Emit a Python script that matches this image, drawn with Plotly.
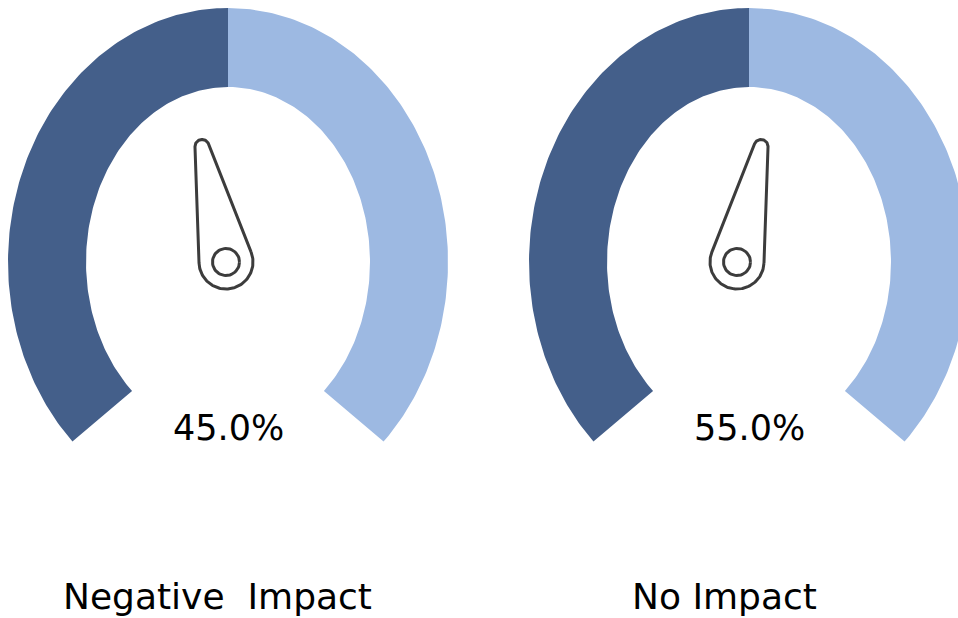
import numpy as np
import plotly.graph_objects as go

# ---- data ----
categories = ["Negative  Impact", "No Impact"]
shares = [0.45, 0.55]            # needle reading per gauge
band_names = ["Lower half", "Upper half"]
band_sizes = [0.5, 0.5]          # dial bands as fractions of the scale

# ---- style / layout ----
W, H = 958, 618
band_colors = ["#445F8A", "#9DB9E2"]
needle_color = "#3C3C3C"
font_family = "DejaVu Sans, Verdana, sans-serif"
gauge_cx = [228, 749]            # dial centres (canvas units = px)
gauge_cy = 262
needle_dx = [-2, -12]            # needle hub offset from the dial centre
r_out = (220, 254)               # outer radius (x, y)
r_in = (142, 175)                # inner radius (x, y)
start_deg, sweep_deg = 225.0, 270.0
inner_flare = 2.5                # inner edge of the end cuts leans into the gap
hub_r, tip_r, tip_dist, pin_r = 27.0, 7.0, 118.0, 13.5

fig = go.Figure()


def band_polygon(cx, cy, a0, a1, f0, f1):
    t = np.radians(np.linspace(a0, a1, 140))
    ti = np.radians(np.linspace(a0 + f0, a1 - f1, 140))[::-1]
    xo = cx + r_out[0] * np.cos(t)
    yo = cy - r_out[1] * np.sin(t)
    xi = cx + r_in[0] * np.cos(ti)
    yi = cy - r_in[1] * np.sin(ti)
    return np.r_[xo, xi, xo[:1]], np.r_[yo, yi, yo[:1]]


def needle_outline(px, py, ang):
    # direction follows the dial's elliptical mapping
    ux, uy = r_out[0] * np.cos(ang), -r_out[1] * np.sin(ang)
    n = np.hypot(ux, uy)
    ux, uy = ux / n, uy / n
    vx, vy = -uy, ux
    phi = np.arccos((hub_r - tip_r) / tip_dist)
    big = np.linspace(phi, 2 * np.pi - phi, 90)
    small = np.linspace(-phi, phi, 40)
    lx = np.r_[hub_r * np.cos(big), tip_dist + tip_r * np.cos(small)]
    ly = np.r_[hub_r * np.sin(big), tip_r * np.sin(small)]
    lx, ly = np.r_[lx, lx[:1]], np.r_[ly, ly[:1]]
    return px + lx * ux + ly * vx, py + lx * uy + ly * vy


for gi, (cat, val) in enumerate(zip(categories, shares)):
    cx = gauge_cx[gi]
    # dial bands
    acc = 0.0
    for bi, (bname, bsize, col) in enumerate(zip(band_names, band_sizes, band_colors)):
        a0 = start_deg - sweep_deg * acc
        a1 = start_deg - sweep_deg * (acc + bsize)
        f0 = inner_flare if bi == 0 else 0.0
        f1 = inner_flare if bi == len(band_sizes) - 1 else 0.0
        acc += bsize
        xs, ys = band_polygon(cx, gauge_cy, a0, a1, f0, f1)
        fig.add_trace(go.Scatter(x=xs, y=ys, fill="toself", fillcolor=col,
                                 line=dict(width=0, color=col), mode="lines",
                                 name=bname, hoverinfo="skip", showlegend=False))
    # needle
    ang = np.radians(start_deg - sweep_deg * val)
    px = cx + needle_dx[gi]
    nx, ny = needle_outline(px, gauge_cy, ang)
    fig.add_trace(go.Scatter(x=nx, y=ny, mode="lines", fill="toself",
                             fillcolor="white",
                             line=dict(color=needle_color, width=3),
                             hoverinfo="skip", showlegend=False))
    t = np.linspace(0, 2 * np.pi, 60)
    fig.add_trace(go.Scatter(x=px + pin_r * np.cos(t), y=gauge_cy + pin_r * np.sin(t),
                             mode="lines", line=dict(color=needle_color, width=3),
                             hoverinfo="skip", showlegend=False))
    # value and category labels
    fig.add_annotation(x=cx, y=428, text=f"{val:.1%}", showarrow=False,
                       font=dict(size=35, color="black", family=font_family),
                       xanchor="center", yanchor="middle")
    fig.add_annotation(x=cx - (11 if gi == 0 else 25), y=596,
                       text=cat.replace("  ", "&nbsp; "), showarrow=False,
                       font=dict(size=36, color="black", family=font_family),
                       xanchor="center", yanchor="middle")

fig.update_xaxes(range=[0, W], visible=False, fixedrange=True)
fig.update_yaxes(range=[H, 0], visible=False, fixedrange=True)
fig.update_layout(width=W, height=H, margin=dict(l=0, r=0, t=0, b=0),
                  paper_bgcolor="white", plot_bgcolor="white", showlegend=False)

fig.write_html("out.html")
